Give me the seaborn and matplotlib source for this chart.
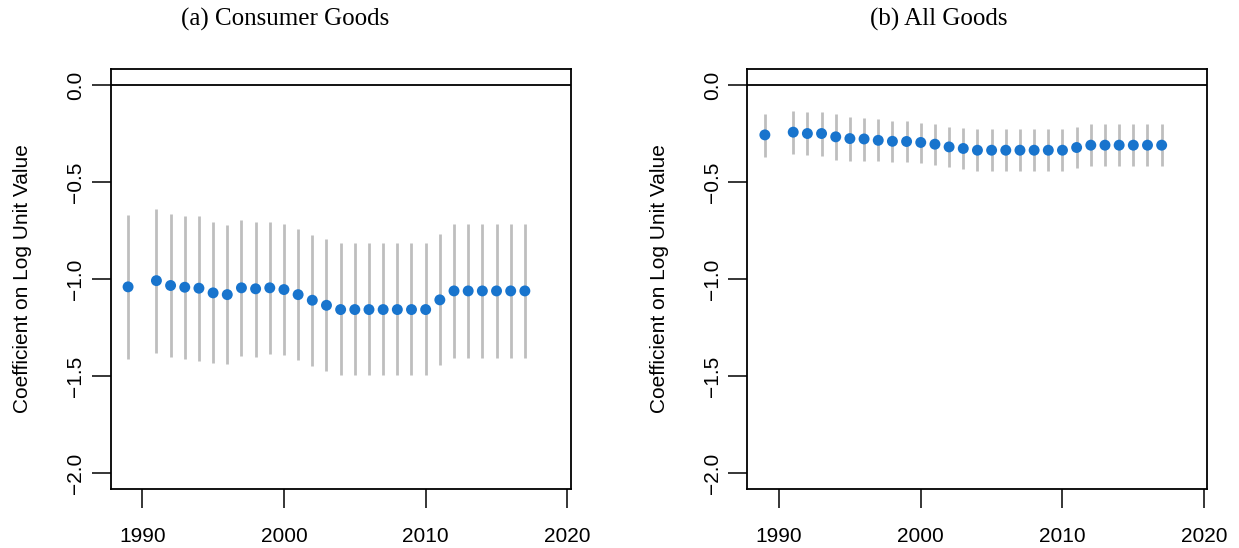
import numpy as np
import pandas as pd
import matplotlib
matplotlib.use("Agg")
import matplotlib.pyplot as plt
import seaborn as sns

# ---- data ----
years = [1989] + list(range(1991, 2018))

cons_est = [-1.040, -1.008, -1.033, -1.042, -1.047, -1.071, -1.080, -1.045, -1.050, -1.045,
            -1.054, -1.080, -1.109, -1.135, -1.157, -1.157, -1.157, -1.157, -1.157, -1.157,
            -1.157, -1.107, -1.061, -1.061, -1.061, -1.061, -1.061, -1.061]
cons_hi = [-0.668, -0.639, -0.667, -0.674, -0.675, -0.708, -0.720, -0.698, -0.706, -0.704,
           -0.715, -0.742, -0.771, -0.795, -0.816, -0.814, -0.814, -0.814, -0.814, -0.814,
           -0.814, -0.770, -0.715, -0.715, -0.715, -0.715, -0.715, -0.715]
cons_lo = [-1.410, -1.380, -1.402, -1.414, -1.421, -1.434, -1.440, -1.397, -1.400, -1.388,
           -1.393, -1.419, -1.448, -1.474, -1.496, -1.496, -1.496, -1.496, -1.496, -1.496,
           -1.496, -1.445, -1.407, -1.407, -1.407, -1.407, -1.407, -1.407]

all_est = [-0.257, -0.243, -0.250, -0.250, -0.267, -0.276, -0.278, -0.285, -0.290, -0.291,
           -0.296, -0.305, -0.319, -0.327, -0.336, -0.336, -0.336, -0.336, -0.336, -0.336,
           -0.336, -0.322, -0.310, -0.310, -0.310, -0.310, -0.310, -0.310]
all_hi = [-0.149, -0.132, -0.140, -0.140, -0.149, -0.166, -0.170, -0.176, -0.185, -0.187,
          -0.194, -0.202, -0.214, -0.223, -0.228, -0.228, -0.228, -0.228, -0.228, -0.228,
          -0.228, -0.218, -0.200, -0.200, -0.200, -0.200, -0.200, -0.200]
all_lo = [-0.372, -0.355, -0.363, -0.365, -0.387, -0.389, -0.389, -0.392, -0.398, -0.399,
          -0.403, -0.413, -0.425, -0.434, -0.442, -0.442, -0.442, -0.442, -0.442, -0.442,
          -0.442, -0.428, -0.416, -0.416, -0.416, -0.416, -0.416, -0.416]

titles = ["(a) Consumer Goods", "(b) All Goods"]
ylabel = "Coefficient on Log Unit Value"
xticks = [1990, 2000, 2010, 2020]
yticks = [-2.0, -1.5, -1.0, -0.5, 0.0]

# ---- style ----
sns.set_theme(style="white", rc={"text.color": "black", "axes.labelcolor": "black",
                                 "xtick.color": "black", "ytick.color": "black",
                                 "axes.edgecolor": "black"})
plt.rcParams['font.family'] = ['Liberation Sans', 'DejaVu Sans']
plt.rcParams['axes.unicode_minus'] = True

W, H = 1239, 548
fig = plt.figure(figsize=(W / 100, H / 100), dpi=100)

BLUE = "#1874CD"
GRAY = "#BEBEBE"

panels = [
    (110.5, pd.DataFrame({"year": years, "est": cons_est, "lo": cons_lo, "hi": cons_hi}), 285),
    (747.3, pd.DataFrame({"year": years, "est": all_est, "lo": all_lo, "hi": all_hi}), 939),
]

top_px, bot_px = 68.7, 488.7
for (left_px, df, tx), title in zip(panels, titles):
    ax = fig.add_axes([left_px / W, (H - bot_px) / H, 460 / W, (bot_px - top_px) / H])
    ax.vlines(df["year"], df["lo"], df["hi"], color=GRAY, lw=2.0, zorder=2)
    ax.axhline(0, color="black", lw=1.3, zorder=1)
    sns.scatterplot(data=df, x="year", y="est", ax=ax, color=BLUE, s=62,
                    edgecolor="none", linewidth=0, zorder=3, legend=False)
    ax.set_xlim(1987.76, 2020.22)
    ax.set_ylim(-2.08, 0.084)
    ax.set_xticks(xticks)
    ax.set_yticks(yticks)
    ax.set_xticklabels([str(t) for t in xticks], fontsize=15, color="black")
    ax.set_yticklabels([f"{t:.1f}".replace("-", "\u2212") for t in yticks], fontsize=15,
                       rotation=90, va="center", color="black")
    ax.tick_params(axis="both", direction="out", length=14, width=1.1, color="black",
                   labelcolor="black", left=True, bottom=True)
    ax.tick_params(axis="x", pad=13.5)
    ax.tick_params(axis="y", pad=4)
    for sp in ax.spines.values():
        sp.set_visible(True)
        sp.set_color("black")
        sp.set_linewidth(1.3)
    ax.set_xlabel("")
    ax.set_ylabel(ylabel, fontsize=15, labelpad=25, color="black")
    fig.text(tx / W, 1 - 19 / H, title, ha="center", va="center", fontsize=18,
             color="black", family=["Liberation Serif", "DejaVu Serif"])

fig.savefig("out.png", dpi=100)
